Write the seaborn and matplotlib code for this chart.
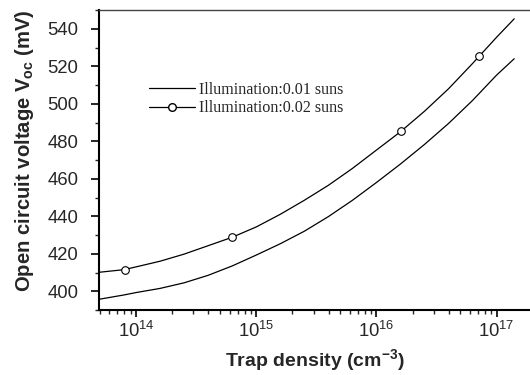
import numpy as np
import pandas as pd
import matplotlib.pyplot as plt
from matplotlib.lines import Line2D
from matplotlib.ticker import MultipleLocator, LogLocator, NullFormatter
import seaborn as sns

# Valores (densidade de armadilhas em cm^-3, Voc em mV)
trap_density = [4.9e13, 7.9e13, 1.0e14, 1.58e14, 2.51e14, 3.98e14, 6.31e14,
                1.0e15, 1.58e15, 2.51e15, 3.98e15, 6.31e15, 1.0e16, 1.58e16,
                2.51e16, 3.98e16, 6.31e16, 1.0e17, 1.4e17]
voc_001 = [395.7, 398.0, 399.3, 401.5, 404.5, 408.5, 413.5, 419.3, 425.3,
           432.0, 439.8, 448.5, 458.0, 467.8, 478.3, 489.5, 501.8, 515.3, 524.0]
voc_002 = [410.1, 411.5, 413.0, 416.0, 419.8, 424.3, 428.8, 434.3, 441.0,
           448.5, 456.5, 465.5, 475.3, 485.0, 496.0, 508.0, 521.5, 535.5, 545.3]

# Pontos marcados na curva de 0.02 suns
marker_density = [8.1e13, 6.3e14, 1.6e16, 7.2e16]
marker_voc = [411.5, 428.8, 485.5, 525.2]

labels = ["Illumination:0.01 suns", "Illumination:0.02 suns"]

df = pd.DataFrame({
    "densidade": trap_density * 2,
    "voc": voc_001 + voc_002,
    "iluminacao": [labels[0]] * len(voc_001) + [labels[1]] * len(voc_002),
})
df_pts = pd.DataFrame({"densidade": marker_density, "voc": marker_voc})

# Configurações iniciais
sns.set_style("ticks")
plt.rcParams["font.family"] = ["Liberation Sans", "DejaVu Sans"]
plt.rcParams["mathtext.fontset"] = "custom"
plt.rcParams["mathtext.rm"] = "Liberation Sans"
plt.rcParams["mathtext.bf"] = "Liberation Sans:bold"
plt.rcParams["mathtext.default"] = "regular"

fig = plt.figure(figsize=(5.3, 3.75), dpi=100)
ax = fig.add_axes([99 / 530, 65 / 375, 1 - 99 / 530, 300 / 375])

sns.lineplot(data=df, x="densidade", y="voc", hue="iluminacao",
             palette=["black", "black"], linewidth=0.9, legend=False,
             sort=True, ax=ax)
sns.scatterplot(data=df_pts, x="densidade", y="voc", marker="o", s=30,
                facecolor="white", edgecolor="black", linewidth=0.8,
                zorder=5, ax=ax)

ax.set_xscale("log")
ax.set_xlim(10 ** 13.6917, 10 ** 17.2775)
ax.set_ylim(390, 550)

ax.yaxis.set_major_locator(MultipleLocator(20))
ax.yaxis.set_minor_locator(MultipleLocator(10))
ax.xaxis.set_major_locator(LogLocator(base=10, numticks=10))
ax.xaxis.set_minor_locator(LogLocator(base=10, subs=np.arange(2, 10), numticks=20))
ax.xaxis.set_minor_formatter(NullFormatter())

ax.tick_params(which="major", direction="out", length=5, width=1.2,
               labelsize=13.3, color="black")
ax.tick_params(axis="y", which="major", length=6, pad=9)
ax.tick_params(axis="x", which="major", pad=3)
ax.tick_params(which="minor", direction="out", length=3, width=1.0)

for lado in ["left", "bottom"]:
    ax.spines[lado].set_linewidth(1.5)
    ax.spines[lado].set_color("black")
ax.spines["top"].set_linewidth(1.0)
ax.spines["top"].set_color("#444444")
ax.spines["right"].set_visible(False)

ax.set_xlabel("Trap density (cm$^{-3}$)", fontsize=14, fontweight="bold",
              labelpad=4)
ax.set_ylabel("Open circuit voltage V$_{oc}$ (mV)", fontsize=14.6,
              fontweight="bold", labelpad=8, y=0.532)

handles = [
    Line2D([], [], color="black", linewidth=0.9),
    Line2D([], [], color="black", linewidth=0.9, marker="o", markersize=5.5,
           markerfacecolor="white", markeredgecolor="black"),
]
ax.legend(handles, labels, loc="upper left", bbox_to_anchor=(0.102, 0.782),
          frameon=False, handlelength=2.8, handletextpad=0.25,
          labelspacing=0.15, borderaxespad=0,
          prop={"family": "Liberation Serif", "size": 11.6})

plt.savefig("out.png", dpi=100)
